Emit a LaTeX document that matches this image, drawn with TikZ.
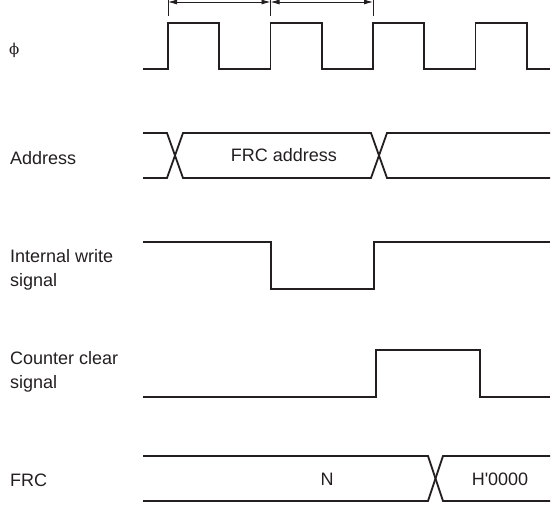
\documentclass[tikz,border=0pt]{standalone}
\usepackage{fontspec}
\setmainfont{Liberation Sans}
\newfontfamily\symfont{DejaVu Serif}
\definecolor{linecol}{HTML}{231F20}
\usetikzlibrary{arrows.meta}

\begin{document}
\begin{tikzpicture}[x=1pt, y=-1pt,
    wave/.style={line width=1.8pt, color=linecol},
    dim/.style={line width=0.8pt, color=linecol},
    lbl/.style={anchor=west, inner sep=0pt, text=linecol, font=\fontsize{18}{24}\selectfont, align=left},
    val/.style={inner sep=0pt, text=linecol, font=\fontsize{18}{24}\selectfont}]
      % Frame
      \useasboundingbox (0,0) rectangle (555,505);

      % Signal names
      \node[lbl] (phiLbl) at (9,50) {\symfont\fontsize{15}{18}\selectfont ϕ};
      \node[lbl] (addrLbl) at (10,158) {Address};
      \node[lbl] (wrLbl) at (10,270) {Internal write\\signal};
      \node[lbl] (clrLbl) at (10,372) {Counter clear\\signal};
      \node[lbl] (frcLbl) at (10,480) {FRC};

      % Clock
      \draw[wave] (143,69) foreach \x in {168,270.5,373,475.5} {
          -- (\x,69) -- (\x,23) -- (\x+51.25,23) -- (\x+51.25,69) } -- (550,69);

      % Cycle marks
      \coordinate (t0) at (168,2);
      \coordinate (t1) at (270.5,2);
      \coordinate (t2) at (373,2);
      \foreach \c in {t0,t1,t2}
        \draw[dim] (\c) ++(0,-3) -- ++(0,17);
      \draw[dim, {Latex[length=9pt,width=5pt]}-{Latex[length=9pt,width=5pt]}] (t0) -- (t1);
      \draw[dim, {Latex[length=9pt,width=5pt]}-{Latex[length=9pt,width=5pt]}] (t1) -- (t2);

      % Address bus
      \draw[wave] (143,133) -- (167,133) -- (183,178) -- (371,178) -- (387,133) -- (550,133);
      \draw[wave] (143,178) -- (167,178) -- (183,133) -- (371,133) -- (387,178) -- (550,178);
      \node[val] (addrVal) at (284,155.5) {FRC address};

      % Internal write signal
      \draw[wave] (143,242) -- (271,242) -- (271,289) -- (374,289) -- (374,242) -- (550,242);

      % Counter clear signal
      \draw[wave] (143,397) -- (376,397) -- (376,350) -- (480,350) -- (480,397) -- (550,397);

      % FRC
      \draw[wave] (143,456) -- (428,456) -- (443,501) -- (550,501);
      \draw[wave] (143,501) -- (428,501) -- (443,456) -- (550,456);
      \node[val] (frcOld) at (327,479) {N};
      \node[val] (frcNew) at (500,479) {H\textquotesingle0000};
\end{tikzpicture}
\end{document}
